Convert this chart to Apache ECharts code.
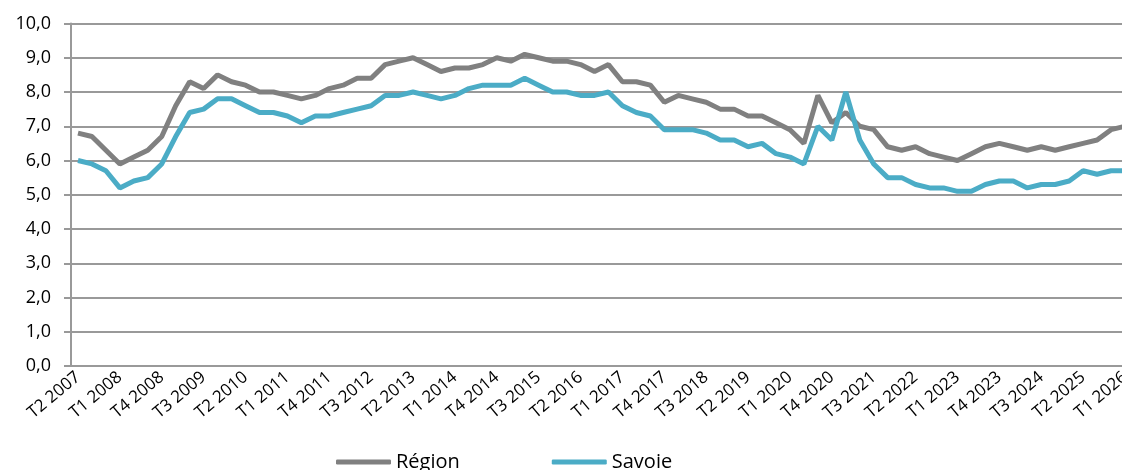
<!DOCTYPE html>
<html>
<head>
<meta charset="utf-8">
<script src="https://cdn.jsdelivr.net/npm/echarts@6/dist/echarts.min.js"></script>
<style>
  html, body { margin: 0; padding: 0; background: #fff; }
  #chart { width: 1122px; height: 470px; }
</style>
</head>
<body>
<div id="chart"></div>
<script>
var quarters = [
  'T2 2007', 'T3 2007', 'T4 2007',
  'T1 2008', 'T2 2008', 'T3 2008', 'T4 2008',
  'T1 2009', 'T2 2009', 'T3 2009', 'T4 2009',
  'T1 2010', 'T2 2010', 'T3 2010', 'T4 2010',
  'T1 2011', 'T2 2011', 'T3 2011', 'T4 2011',
  'T1 2012', 'T2 2012', 'T3 2012', 'T4 2012',
  'T1 2013', 'T2 2013', 'T3 2013', 'T4 2013',
  'T1 2014', 'T2 2014', 'T3 2014', 'T4 2014',
  'T1 2015', 'T2 2015', 'T3 2015', 'T4 2015',
  'T1 2016', 'T2 2016', 'T3 2016', 'T4 2016',
  'T1 2017', 'T2 2017', 'T3 2017', 'T4 2017',
  'T1 2018', 'T2 2018', 'T3 2018', 'T4 2018',
  'T1 2019', 'T2 2019', 'T3 2019', 'T4 2019',
  'T1 2020', 'T2 2020', 'T3 2020', 'T4 2020',
  'T1 2021', 'T2 2021', 'T3 2021', 'T4 2021',
  'T1 2022', 'T2 2022', 'T3 2022', 'T4 2022',
  'T1 2023', 'T2 2023', 'T3 2023', 'T4 2023',
  'T1 2024', 'T2 2024', 'T3 2024', 'T4 2024',
  'T1 2025', 'T2 2025', 'T3 2025', 'T4 2025',
  'T1 2026'
]

var region = [
  6.8, 6.7, 6.3, 5.9, 6.1, 6.3, 6.7, 7.6, 8.3, 8.1,
  8.5, 8.3, 8.2, 8.0, 8.0, 7.9, 7.8, 7.9, 8.1, 8.2,
  8.4, 8.4, 8.8, 8.9, 9.0, 8.8, 8.6, 8.7, 8.7, 8.8,
  9.0, 8.9, 9.1, 9.0, 8.9, 8.9, 8.8, 8.6, 8.8, 8.3,
  8.3, 8.2, 7.7, 7.9, 7.8, 7.7, 7.5, 7.5, 7.3, 7.3,
  7.1, 6.9, 6.5, 7.9, 7.1, 7.4, 7.0, 6.9, 6.4, 6.3,
  6.4, 6.2, 6.1, 6.0, 6.2, 6.4, 6.5, 6.4, 6.3, 6.4,
  6.3, 6.4, 6.5, 6.6, 6.9, 7.0
]

var savoie = [
  6.0, 5.9, 5.7, 5.2, 5.4, 5.5, 5.9, 6.7, 7.4, 7.5,
  7.8, 7.8, 7.6, 7.4, 7.4, 7.3, 7.1, 7.3, 7.3, 7.4,
  7.5, 7.6, 7.9, 7.9, 8.0, 7.9, 7.8, 7.9, 8.1, 8.2,
  8.2, 8.2, 8.4, 8.2, 8.0, 8.0, 7.9, 7.9, 8.0, 7.6,
  7.4, 7.3, 6.9, 6.9, 6.9, 6.8, 6.6, 6.6, 6.4, 6.5,
  6.2, 6.1, 5.9, 7.0, 6.6, 8.0, 6.6, 5.9, 5.5, 5.5,
  5.3, 5.2, 5.2, 5.1, 5.1, 5.3, 5.4, 5.4, 5.2, 5.3,
  5.3, 5.4, 5.7, 5.6, 5.7, 5.7
]

var chart = echarts.init(document.getElementById('chart'), null, { renderer: 'canvas' })
var font = '"Open Sans", "Noto Sans", sans-serif'
var gridColor = '#999999'

var option = {
  animation: false,
  backgroundColor: '#ffffff',
  grid: {
    left: 71,
    top: 23.5,
    width: 1061,
    height: 342.5,
    containLabel: false,
    outerBoundsMode: 'none'
  },
  legend: {
    left: 331,
    top: 447,
    icon: 'roundRect',
    itemWidth: 55,
    itemHeight: 5,
    itemGap: 92,
    textStyle: { fontFamily: font, fontSize: 20, color: '#000' },
    data: ['Région', 'Savoie']
  },
  xAxis: {
    type: 'category',
    data: quarters,
    boundaryGap: true,
    axisLine: { lineStyle: { color: gridColor, width: 2 } },
    axisTick: { interval: 0, length: 5, lineStyle: { color: gridColor, width: 2 } },
    axisLabel: {
      interval: 2,
      rotate: 40,
      margin: 9,
      fontFamily: font,
      fontSize: 17,
      color: '#000'
    },
    splitLine: { show: false }
  },
  yAxis: {
    type: 'value',
    min: 0,
    max: 10,
    interval: 1,
    axisLine: { show: true, lineStyle: { color: gridColor, width: 2 } },
    axisTick: { show: true, length: 7, lineStyle: { color: gridColor, width: 2 } },
    axisLabel: {
      margin: 20,
      fontFamily: font,
      fontSize: 18,
      color: '#000',
      formatter: function (v) { return v.toFixed(1).replace('.', ',') }
    },
    splitLine: { lineStyle: { color: gridColor, width: 2 } }
  },
  series: [
    {
      name: 'Région',
      type: 'line',
      data: region,
      showSymbol: false,
      symbol: 'none',
      color: '#808080',
      lineStyle: { width: 5, color: '#808080' }
    },
    {
      name: 'Savoie',
      type: 'line',
      data: savoie,
      showSymbol: false,
      symbol: 'none',
      color: '#4bacc6',
      lineStyle: { width: 5, color: '#4bacc6' }
    }
  ]
}

chart.setOption(option)
</script>
</body>
</html>
